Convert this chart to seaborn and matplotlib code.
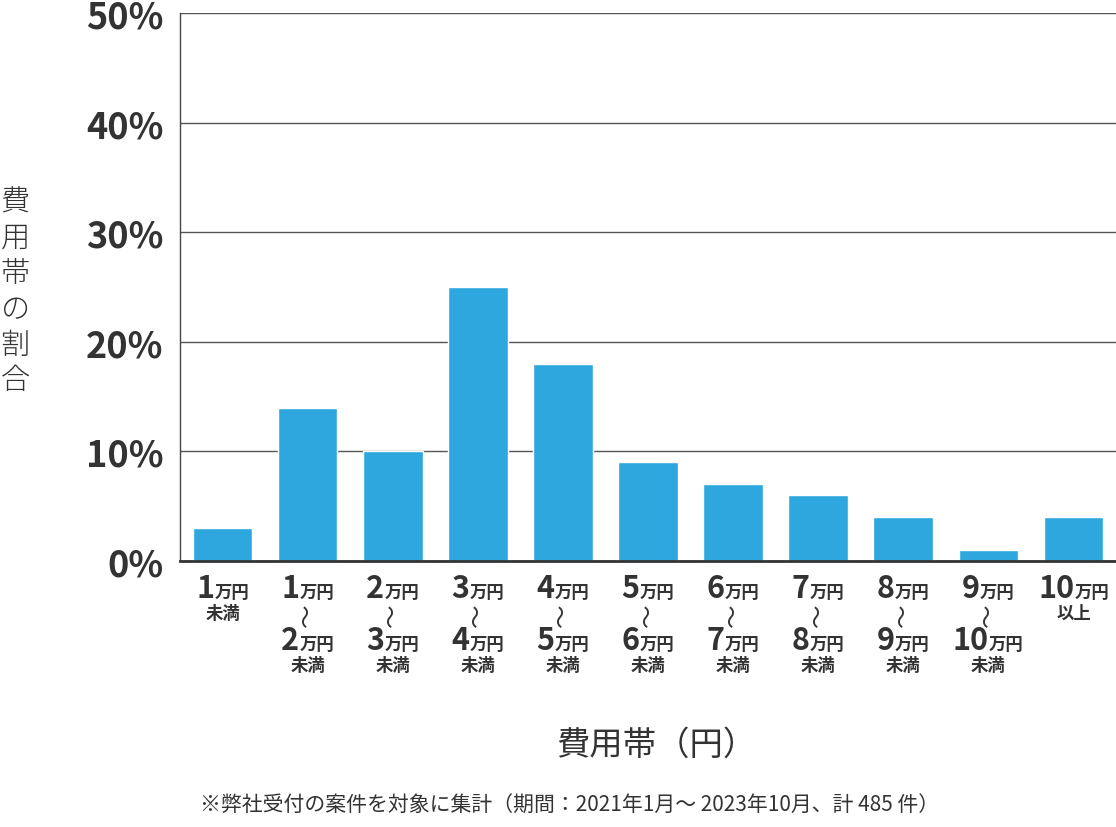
import matplotlib
matplotlib.use("Agg")
import matplotlib.pyplot as plt
import seaborn as sns
import pandas as pd
from matplotlib.text import Text
from matplotlib.offsetbox import TextArea, HPacker, VPacker, DrawingArea, AnnotationBbox

# data
bands = ["1万円未満", "1万円〜2万円未満", "2万円〜3万円未満", "3万円〜4万円未満",
         "4万円〜5万円未満", "5万円〜6万円未満", "6万円〜7万円未満", "7万円〜8万円未満",
         "8万円〜9万円未満", "9万円〜10万円未満", "10万円以上"]
shares = [3, 14, 10, 25, 18, 9, 7, 6, 4, 1, 4]
lower = ["1", "1", "2", "3", "4", "5", "6", "7", "8", "9", "10"]
upper = [None, "2", "3", "4", "5", "6", "7", "8", "9", "10", None]
tail = ["未満", "未満", "未満", "未満", "未満", "未満", "未満", "未満", "未満", "未満", "以上"]
yticks = [0, 10, 20, 30, 40, 50]

JP = ["Noto Sans CJK JP", "DejaVu Sans"]
TXT = "#333333"
BLUE = "#2ea7df"

sns.set_theme(style="white")
plt.rcParams["font.family"] = JP

df = pd.DataFrame({"band": bands, "share": shares})

fig = plt.figure(figsize=(11.16, 8.28), dpi=100)
ax = fig.add_axes([180 / 1116, 1 - 562 / 828, 1 - 180 / 1116, (562 - 14) / 828])

sns.barplot(data=df, x="band", y="share", color=BLUE, saturation=1, width=0.7, ax=ax)

ax.set_xlim(-0.5, len(bands) - 0.5)
ax.set_ylim(0, 50)
ax.set_yticks(yticks)
ax.set_yticklabels([f"{v}%" for v in yticks], fontsize=26, fontweight="bold",
                   color=TXT, family=JP)
ax.tick_params(axis="y", length=0, pad=12)
ax.tick_params(axis="x", length=0)
ax.set_xticklabels([])
ax.set_xlabel("")
ax.set_ylabel("")
ax.yaxis.grid(True, color="#555555", lw=1)
ax.set_axisbelow(True)

for s in ["top", "right"]:
    ax.spines[s].set_visible(False)
ax.spines["left"].set_color("#444444")
ax.spines["left"].set_linewidth(1)
ax.spines["bottom"].set_color("#333333")
ax.spines["bottom"].set_linewidth(2)
ax.spines["bottom"].set_zorder(5)


def amount(num):
    big = TextArea(num, textprops=dict(fontsize=22, fontweight="bold", color=TXT, family=JP))
    small = TextArea("万円", textprops=dict(fontsize=12.5, fontweight="bold", color=TXT, family=JP))
    return HPacker(children=[big, small], align="baseline", pad=0, sep=0)


def wave():
    # vertical wave dash between the two amounts
    da = DrawingArea(12, 14, 0, 0)
    da.add_artist(Text(6, 7, "〜", rotation=90, ha="center", va="center",
                       fontsize=17, color=TXT, family=JP))
    return da


for i in range(len(bands)):
    rows = [amount(lower[i])]
    if upper[i] is not None:
        rows.append(wave())
        rows.append(amount(upper[i]))
    rows.append(TextArea(tail[i], textprops=dict(fontsize=12.5, fontweight="bold",
                                                 color=TXT, family=JP)))
    box = VPacker(children=rows, align="center", pad=0, sep=0)
    ab = AnnotationBbox(box, (i, 0), xycoords=ax.get_xaxis_transform(),
                        xybox=(0, -8), boxcoords="offset points",
                        box_alignment=(0.5, 1), frameon=False, annotation_clip=False)
    ax.add_artist(ab)

fig.text(15 / 1116, 1 - 292 / 828, "\n".join("費用帯の割合"), fontsize=21, color=TXT,
         ha="center", va="center", linespacing=1.22, family=JP, fontweight="light")
fig.text(656 / 1116, 1 - 745 / 828, "費用帯（円）", fontsize=24, color=TXT,
         ha="center", va="center", family=JP)
fig.text(570 / 1116, 1 - 806 / 828,
         "※弊社受付の案件を対象に集計（期間：2021年1月〜 2023年10月、計 485 件）",
         fontsize=15, color=TXT, ha="center", va="center", family=JP)

fig.savefig("out.png", dpi=100)
